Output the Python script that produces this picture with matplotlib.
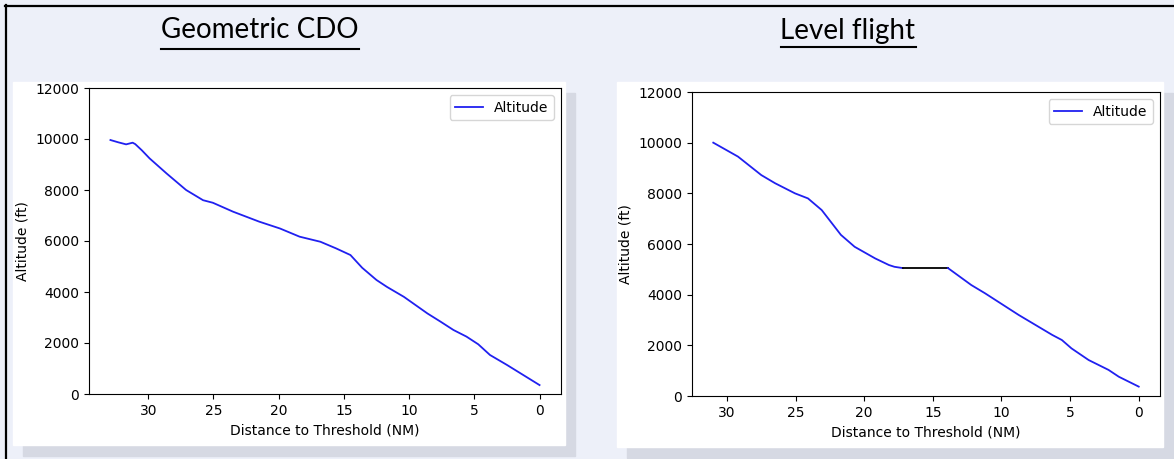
import matplotlib.pyplot as plt
from matplotlib.patches import Rectangle
from matplotlib.lines import Line2D

W, H = 1174, 459

# geometric CDO profile
cdo_dist = [32.9, 32.3, 31.7, 31.2, 31.0, 30.5, 29.9, 28.6, 27.1, 25.8, 25.05, 23.5, 21.5,
            19.9, 18.4, 16.8, 15.6, 14.5, 13.6, 12.5, 11.7, 10.4, 8.6, 7.6, 6.6, 5.6,
            4.7, 3.8, 2.5, 0.0]
cdo_alt = [9960, 9870, 9790, 9855, 9800, 9560, 9240, 8650, 8000, 7600, 7500, 7150, 6760,
           6490, 6170, 5970, 5710, 5450, 4950, 4470, 4200, 3810, 3160, 2840, 2510, 2250,
           1950, 1530, 1140, 350]

# level flight profile: descent, level segment, descent
lvl_dist1 = [31.0, 29.2, 27.5, 26.5, 25.05, 24.1, 23.1, 21.7, 20.7, 19.2, 18.2, 17.8, 17.2]
lvl_alt1 = [10000, 9450, 8720, 8400, 8000, 7800, 7340, 6360, 5890, 5430, 5170, 5100, 5050]
level_dist = [17.2, 13.9]
level_alt = [5050, 5050]
lvl_dist2 = [13.9, 12.2, 11.2, 8.75, 6.3, 5.6, 4.9, 3.65, 2.2, 1.45, 0.0]
lvl_alt2 = [5050, 4380, 4055, 3200, 2410, 2210, 1880, 1420, 1030, 760, 370]

bg = '#edf0f9'
shadow = '#d6d9e3'


def px_rect(x0, y0, x1, y1):
    # pixel box (top-left origin) -> figure fraction rect
    return (x0 / W, (H - y1) / H), (x1 - x0) / W, (y1 - y0) / H


fig = plt.figure(figsize=(W / 100, H / 100), dpi=100)
fig.patch.set_facecolor(bg)

# cards with shadows
for box in [(13, 82, 565, 445), (617, 82, 1163, 447)]:
    x0, y0, x1, y1 = box
    xy, w, h = px_rect(x0 + 10, y0 + 11, x1 + 10, y1 + 11)
    fig.add_artist(Rectangle(xy, w, h, transform=fig.transFigure, color=shadow, zorder=-3))
    xy, w, h = px_rect(x0, y0, x1, y1)
    fig.add_artist(Rectangle(xy, w, h, transform=fig.transFigure, color='white', zorder=-2))

# slide border
fig.add_artist(Line2D([5 / W, 1], [1 - 5.5 / H, 1 - 5.5 / H], transform=fig.transFigure, color='black', lw=1.6))
fig.add_artist(Line2D([5.5 / W, 5.5 / W], [0, 1 - 5 / H], transform=fig.transFigure, color='black', lw=1.6))

ax1 = fig.add_axes([89 / W, (H - 394) / H, 472 / W, 306 / H])
ax2 = fig.add_axes([692 / W, (H - 396) / H, 468 / W, 304 / H])

ax1.plot(cdo_dist, cdo_alt, color='#2020f0', lw=1.3, label='Altitude')
ax2.plot(lvl_dist1, lvl_alt1, color='#2020f0', lw=1.3, label='Altitude')
ax2.plot(level_dist, level_alt, color='black', lw=1.3)
ax2.plot(lvl_dist2, lvl_alt2, color='#2020f0', lw=1.3)

for ax in [ax1, ax2]:
    ax.set_ylim(0, 12000)
    ax.invert_xaxis()
    ax.set_xlabel('Distance to Threshold (NM)')
    ax.set_ylabel('Altitude (ft)')
    ax.legend(loc='upper right')

t1 = fig.text(260 / W, 1 - 38 / H, 'Geometric CDO', family='Lato', fontsize=20, ha='center', va='baseline')
t2 = fig.text(848 / W, 1 - 39 / H, 'Level flight', family='Lato', fontsize=20, ha='center', va='baseline')

# underline titles
fig.canvas.draw()
r = fig.canvas.get_renderer()
for t, y in [(t1, 49), (t2, 47)]:
    bb = t.get_window_extent(r)
    fig.add_artist(Line2D([bb.x0 / W, bb.x1 / W], [1 - y / H, 1 - y / H],
                          transform=fig.transFigure, color='black', lw=1.5))

fig.savefig('out.png', dpi=100, facecolor=bg)
